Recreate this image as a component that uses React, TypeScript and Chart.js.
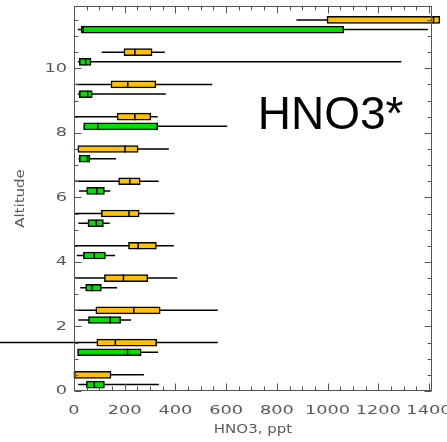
import { useEffect, useRef } from 'react';
import { Chart, registerables } from 'chart.js';
Chart.register(...registerables);

// ---- data ----
const orangeAlt = [0.5, 1.5, 2.5, 3.5, 4.5, 5.5, 6.5, 7.5, 8.5, 9.5, 10.5, 11.5];
const orangeLow = [0, -300, 3, 3, 3, 4, 4, 15, 0, 8, 109, 877];
const orangeQ1 = [1, 90, 86, 120, 215, 108, 176, 15, 170, 146, 197, 998];
const orangeMed = [2, 163, 236, 195, 253, 217, 220, 201, 240, 212, 240, 1418];
const orangeQ3 = [146, 326, 340, 291, 325, 257, 261, 253, 303, 323, 308, 1443];
const orangeHigh = [276, 567, 567, 407, 394, 396, 334, 374, 330, 545, 358, 1443];

const greenAlt = [0.2, 1.2, 2.2, 3.2, 4.2, 5.2, 6.2, 7.2, 8.2, 9.2, 10.2, 11.2];
const greenLow = [17, 14, 17, 25, 11, 17, 20, 18, 38, 15, 15, 15];
const greenQ1 = [49, 14, 57, 46, 37, 55, 50, 21, 38, 21, 21, 28];
const greenMed = [80, 211, 143, 70, 80, 88, 90, 53, 94, 54, 46, 36];
const greenQ3 = [120, 265, 184, 108, 124, 116, 120, 63, 330, 72, 67, 1064];
const greenHigh = [335, 332, 225, 170, 162, 141, 143, 166, 604, 362, 1291, 1396];

const xTickValues = [0, 200, 400, 600, 800, 1000, 1200, 1400];
const xTickLabels = ['0', '200', '400', '600', '800', '1000', '1200', '1400'];
const yTickValues = [0, 2, 4, 6, 8, 10];
const yTickLabels = ['0', '2', '4', '6', '8', '10'];

const X_MIN = 0;
const X_MAX = 1412;
const Y_MIN = 0;
const Y_MAX = 11.93;
const X_MINOR_STEP = 50;
const Y_MINOR_STEP = 0.5;

const ORANGE = '#FFC000';
const GREEN = '#00E000';
const AXIS = '#555555';
const TEXT = '#5a5a5a';
const BOX_H = 7;

function stretchedText(ctx: CanvasRenderingContext2D, s: string, x: number, y: number, align: 'center' | 'right' | 'left', sx: number) {
  ctx.save();
  ctx.translate(x, y);
  ctx.scale(sx, 1);
  ctx.textAlign = align;
  ctx.fillText(s, 0, 0);
  ctx.restore();
}

function drawAxes(chart: any) {
  const { ctx, chartArea: a, scales } = chart;
  const x = scales.x;
  const y = scales.y;
  const L = Math.round(a.left) + 0.5;
  const R = Math.round(a.right) - 0.5;
  const T = Math.round(a.top) + 0.5;
  const B = Math.round(a.bottom) - 0.5;
  ctx.save();
  ctx.strokeStyle = AXIS;
  ctx.lineWidth = 1;
  ctx.strokeRect(L, T, R - L, B - T);
  ctx.beginPath();
  for (let k = 0; X_MIN + k * X_MINOR_STEP <= X_MAX; k++) {
    const v = X_MIN + k * X_MINOR_STEP;
    const len = xTickValues.includes(v) ? 7 : 4;
    const px = Math.round(x.getPixelForValue(v)) + 0.5;
    ctx.moveTo(px, B);
    ctx.lineTo(px, B - len);
    ctx.moveTo(px, T);
    ctx.lineTo(px, T + len);
  }
  for (let k = 0; Y_MIN + k * Y_MINOR_STEP <= Y_MAX; k++) {
    const v = Y_MIN + k * Y_MINOR_STEP;
    const len = yTickValues.includes(v) ? 7 : 4;
    const py = Math.round(y.getPixelForValue(v)) + 0.5;
    ctx.moveTo(L, py);
    ctx.lineTo(L + len, py);
    ctx.moveTo(R, py);
    ctx.lineTo(R - len, py);
  }
  ctx.stroke();
  ctx.restore();
}

const boxPlugin = {
  id: 'boxExtras',
  beforeDatasetsDraw(chart: any) {
    const { ctx, scales } = chart;
    const x = scales.x;
    const y = scales.y;
    ctx.save();
    ctx.strokeStyle = '#000';
    ctx.lineWidth = 1.5;
    ctx.beginPath();
    const whisk = (alt: number[], lo: number[], hi: number[]) => {
      alt.forEach((v, i) => {
        const py = y.getPixelForValue(v);
        ctx.moveTo(x.getPixelForValue(lo[i]), py);
        ctx.lineTo(x.getPixelForValue(hi[i]), py);
      });
    };
    whisk(orangeAlt, orangeLow, orangeHigh);
    whisk(greenAlt, greenLow, greenHigh);
    ctx.stroke();
    ctx.restore();
  },
  afterDatasetsDraw(chart: any) {
    const { ctx, scales } = chart;
    const x = scales.x;
    const y = scales.y;
    ctx.save();
    ctx.strokeStyle = '#000';
    ctx.lineWidth = 1.5;
    ctx.beginPath();
    const med = (alt: number[], m: number[]) => {
      alt.forEach((v, i) => {
        const py = y.getPixelForValue(v);
        const px = x.getPixelForValue(m[i]);
        ctx.moveTo(px, py - BOX_H / 2);
        ctx.lineTo(px, py + BOX_H / 2);
      });
    };
    med(orangeAlt, orangeMed);
    med(greenAlt, greenMed);
    ctx.stroke();
    ctx.restore();
  },
  afterDraw(chart: any) {
    const { ctx, chartArea: a, scales } = chart;
    const x = scales.x;
    const y = scales.y;
    drawAxes(chart);
    ctx.save();
    ctx.fillStyle = TEXT;
    ctx.font = '12.5px "DejaVu Sans"';
    ctx.textBaseline = 'middle';
    xTickValues.forEach((v, i) => {
      stretchedText(ctx, xTickLabels[i], x.getPixelForValue(v), a.bottom + 20, 'center', 1.42);
    });
    yTickValues.forEach((v, i) => {
      stretchedText(ctx, yTickLabels[i], a.left - 7, y.getPixelForValue(v), 'right', 1.42);
    });
    stretchedText(ctx, 'HNO3, ppt', (a.left + a.right) / 2, a.bottom + 39, 'center', 1.2);
    ctx.save();
    ctx.translate(21, (a.top + a.bottom) / 2);
    ctx.rotate(-Math.PI / 2);
    stretchedText(ctx, 'Altitude', 0, 0, 'center', 1.2);
    ctx.restore();
    ctx.fillStyle = '#000';
    ctx.font = '46px "Liberation Sans", Arial, sans-serif';
    ctx.textBaseline = 'alphabetic';
    ctx.textAlign = 'left';
    ctx.fillText('HNO3*', x.getPixelForValue(725), y.getPixelForValue(8.13));
    ctx.restore();
  },
};

export default function App() {
  const ref = useRef<HTMLCanvasElement>(null);
  useEffect(() => {
    if (!ref.current) return;
    const mk = (alt: number[], q1: number[], q3: number[], color: string) => ({
      type: 'bar' as const,
      data: alt.map((v, i) => ({ y: v, x: [q1[i], q3[i]] })),
      backgroundColor: color,
      borderColor: '#000',
      borderWidth: 1.5,
      borderSkipped: false,
      barThickness: BOX_H,
      grouped: false,
      clip: false as any,
    });
    const chart = new Chart(ref.current, {
      type: 'bar',
      data: {
        datasets: [
          mk(orangeAlt, orangeQ1, orangeQ3, ORANGE) as any,
          mk(greenAlt, greenQ1, greenQ3, GREEN) as any,
        ],
      },
      options: {
        indexAxis: 'y',
        responsive: false,
        animation: false,
        events: [],
        layout: { padding: { left: 74, right: 15, top: 6, bottom: 51 } },
        plugins: { legend: { display: false }, tooltip: { enabled: false } },
        scales: {
          x: { type: 'linear', min: X_MIN, max: X_MAX, display: false, offset: false },
          y: { type: 'linear', min: Y_MIN, max: Y_MAX, display: false, offset: false },
        },
      },
      plugins: [boxPlugin],
    });
    return () => chart.destroy();
  }, []);
  return (
    <div style={{ position: 'absolute', left: 0, top: 0, width: 447, height: 442, background: '#fff' }}>
      <canvas ref={ref} width={447} height={442} style={{ width: 447, height: 442, display: 'block' }} />
    </div>
  );
}
